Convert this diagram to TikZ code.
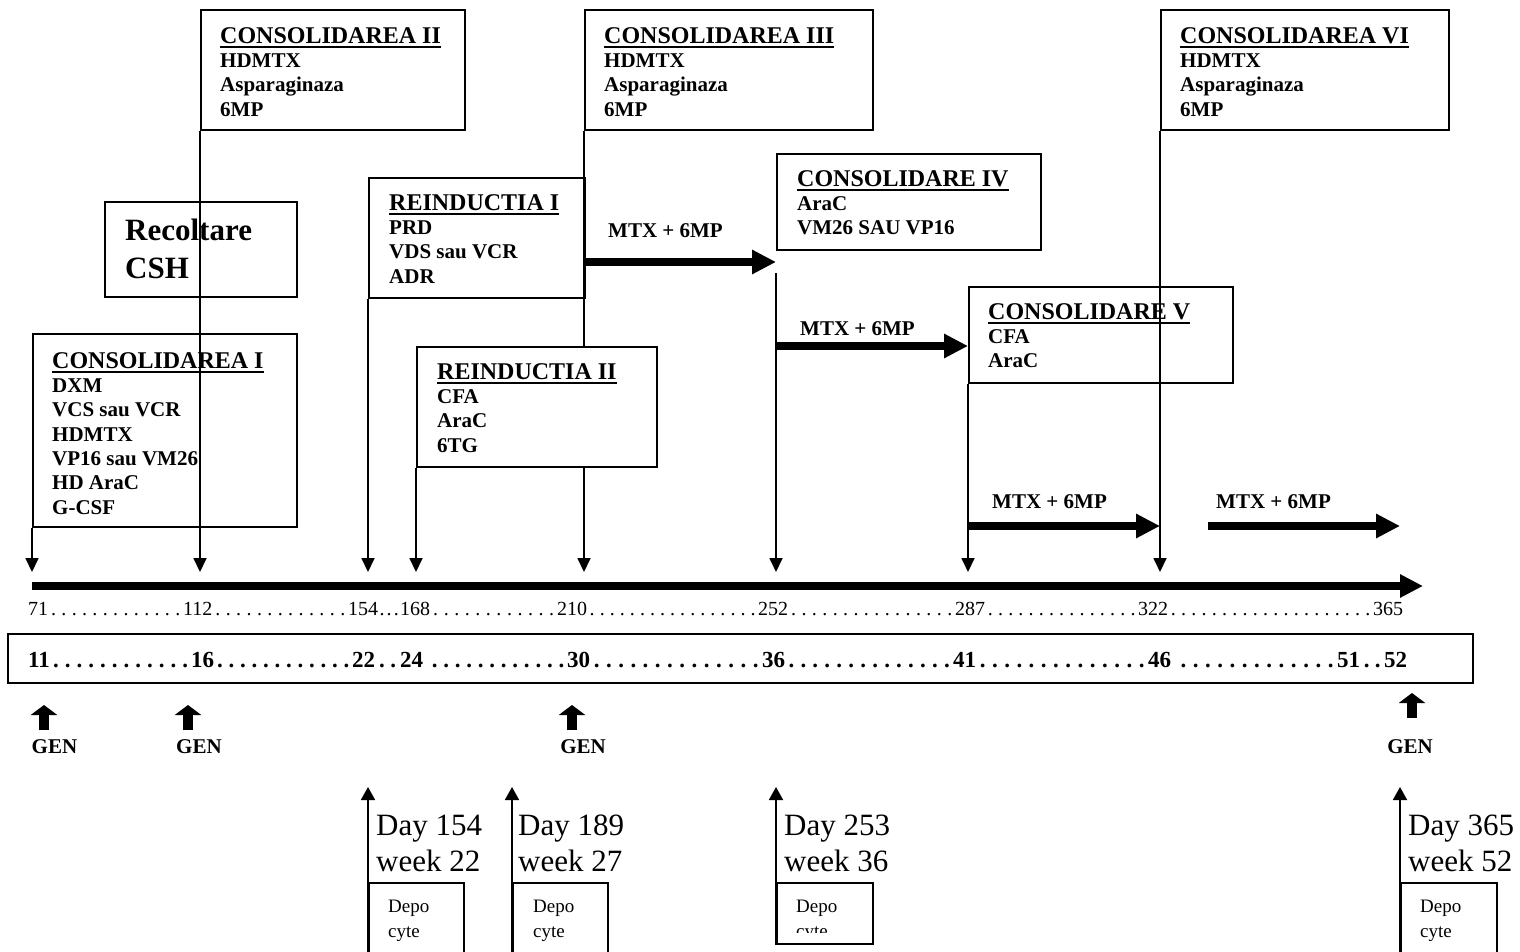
\documentclass[tikz,border=0pt]{standalone}
\usepackage{fontspec}
\setmainfont{Liberation Serif}
\usetikzlibrary{arrows.meta}
\newsavebox\hdrbox
\newcommand\hdr[1]{\sbox\hdrbox{#1}\rlap{\rule[-4.6pt]{\wd\hdrbox}{2pt}}\usebox\hdrbox}
\newcommand\topstrut{\rule{0pt}{20pt}}
\newcommand\dayseg[3][10pt]{\makebox[#2][l]{#3\xleaders\hbox to #1{\hss.\hss}\hfill}}
\newcommand\wkseg[3][11.5pt]{\makebox[#2][l]{#3\xleaders\hbox to #1{\hss.\hss}\hfill}}
\begin{document}
\begin{tikzpicture}[x=1pt,y=-1pt,
  box/.style={draw,line width=2pt,inner sep=0pt,anchor=north west},
  txt/.style={anchor=north west,inner sep=0pt,align=left,font=\fontsize{21}{24.3}\selectfont\bfseries},
  vline/.style={line width=1.8pt,-{Triangle[length=14pt,width=13pt]}},
  bigarrow/.style={line width=8.5pt,-{Triangle[length=24pt,width=23pt]}},
  genarrow/.style={line width=10pt,-{Triangle[length=10pt,width=26pt]}},
  uparrow/.style={line width=1.8pt,-{Triangle[length=13pt,width=14pt]}},
  lbl/.style={anchor=base west,inner sep=0pt,font=\fontsize{21}{24}\selectfont\bfseries},
  genlbl/.style={anchor=base,inner sep=0pt,font=\fontsize{21}{24}\selectfont\bfseries},
  dayrow/.style={anchor=base west,inner sep=0pt,font=\fontsize{20}{24}\selectfont},
  wkrow/.style={anchor=base west,inner sep=0pt,font=\fontsize{23}{26}\selectfont\bfseries},
  daytxt/.style={anchor=north west,inner sep=0pt,align=left,font=\fontsize{31}{36}\selectfont},
  depotxt/.style={anchor=north west,inner sep=0pt,align=left,font=\fontsize{19}{25}\selectfont},
]
\clip (0,0) rectangle (1520,952);
\fill[white] (0,0) rectangle (1520,952);

% ---------- top boxes ----------
\node[box,minimum width=264pt,minimum height=120pt] (c2) at (200,9) {};
\node[txt] (c2t) at (220,23) {\topstrut\hdr{\fontsize{24}{24.3}\selectfont CONSOLIDAREA II}\\HDMTX\\Asparaginaza\\6MP};

\node[box,minimum width=288pt,minimum height=120pt] (c3) at (584,9) {};
\node[txt] (c3t) at (604,23) {\topstrut\hdr{\fontsize{24}{24.3}\selectfont CONSOLIDAREA III}\\HDMTX\\Asparaginaza\\6MP};

\node[box,minimum width=288pt,minimum height=120pt] (c6) at (1160,9) {};
\node[txt] (c6t) at (1180,23) {\topstrut\hdr{\fontsize{24}{24.3}\selectfont CONSOLIDAREA VI}\\HDMTX\\Asparaginaza\\6MP};

\node[box,minimum width=192pt,minimum height=95pt] (rc) at (104,201) {};
\node[anchor=north west,inner sep=0pt,align=left,font=\fontsize{31}{37.5}\selectfont\bfseries] (rct) at (125,215.7) {\rule{0pt}{25pt}Recoltare\\CSH};

\node[box,minimum width=216pt,minimum height=120pt] (r1) at (368,177) {};
\node[txt] (r1t) at (389,190) {\topstrut\hdr{\fontsize{24}{24.3}\selectfont REINDUCTIA I}\\PRD\\VDS sau VCR\\ADR};

\node[box,minimum width=264pt,minimum height=96pt] (c4) at (776,153) {};
\node[txt] (c4t) at (797,166) {\topstrut\hdr{\fontsize{24}{24.3}\selectfont CONSOLIDARE IV}\\AraC\\VM26 SAU VP16};

\node[box,minimum width=264pt,minimum height=96pt] (c5) at (968,286) {};
\node[txt] (c5t) at (988,299) {\topstrut\hdr{\fontsize{24}{24.3}\selectfont CONSOLIDARE V}\\CFA\\AraC};

\node[box,minimum width=264pt,minimum height=193pt] (c1) at (32,333) {};
\node[txt] (c1t) at (52,348) {\topstrut\hdr{\fontsize{24}{24.3}\selectfont CONSOLIDAREA I}\\DXM\\VCS sau VCR\\HDMTX\\VP16 sau VM26\\HD AraC\\G-CSF};

% ---------- timeline ----------
\coordinate (tl0) at (32,586);
\coordinate (tl1) at (1423,586);
\draw[line width=8pt,-{Triangle[length=23pt,width=22pt]}] (tl0) -- (tl1);

\coordinate (t71) at (32,572);
\coordinate (t112) at (200,572);
\coordinate (t154) at (368,572);
\coordinate (t168) at (416,572);
\coordinate (t210) at (584,572);
\coordinate (t252) at (776,572);
\coordinate (t287) at (968,572);
\coordinate (t322) at (1160,572);
\coordinate (s252) at (776,273);

\draw[vline] (c1.south west) -- (t71);
\draw[vline] (c2.south west) -- (t112);
\draw[vline] (r1.south west) -- (t154);
\draw[vline] (c3.south west) -- (t210);
\draw[vline] (s252) -- (t252);
\draw[vline] (c5.south west) -- (t287);
\draw[vline] (c6.south west) -- (t322);

% REINDUCTIA II (opaque, covers the 210 line)
\node[box,fill=white,minimum width=240pt,minimum height=120pt] (r2) at (416,346) {};
\node[txt] (r2t) at (437,359) {\topstrut\hdr{\fontsize{24}{24.3}\selectfont REINDUCTIA II}\\CFA\\AraC\\6TG};
\draw[vline] (r2.south west) -- (t168);

% ---------- MTX + 6MP arrows ----------
\coordinate (m1a) at (584,262); \coordinate (m1b) at (776,262);
\coordinate (m2a) at (776,346); \coordinate (m2b) at (968,346);
\coordinate (m3a) at (968,526); \coordinate (m3b) at (1160,526);
\coordinate (m4a) at (1208,526); \coordinate (m4b) at (1400,526);
\draw[bigarrow] (m1a) -- (m1b);
\draw[bigarrow] (m2a) -- (m2b);
\draw[bigarrow] (m3a) -- (m3b);
\draw[bigarrow] (m4a) -- (m4b);
\node[lbl] (m1l) at (608,237) {MTX + 6MP};
\node[lbl] (m2l) at (800,335.5) {MTX + 6MP};
\node[lbl] (m3l) at (992,508) {MTX + 6MP};
\node[lbl] (m4l) at (1216,508) {MTX + 6MP};

% ---------- day row ----------
\node[dayrow] (d71) at (28,615) {\dayseg{155pt}{71}};
\node[dayrow] (d112) at (183,615) {\dayseg{165pt}{112}};
\node[dayrow] (d154) at (348,615) {\dayseg[6.5pt]{52pt}{154}};
\node[dayrow] (d168) at (400,615) {\dayseg{157pt}{168}};
\node[dayrow] (d210) at (557,615) {\dayseg{201pt}{210}};
\node[dayrow] (d252) at (758,615) {\dayseg{197pt}{252}};
\node[dayrow] (d287) at (955,615) {\dayseg{183pt}{287}};
\node[dayrow] (d322) at (1138,615) {\dayseg{235pt}{322}};
\node[dayrow] (d365) at (1373,615) {365};

% ---------- week row ----------
\node[draw,line width=2pt,inner sep=0pt,anchor=north west,minimum width=1465pt,minimum height=49pt] (wk) at (7,633) {};
\node[wkrow] (w11) at (28,667) {\wkseg{163pt}{11}};
\node[wkrow] (w16) at (191,667) {\wkseg{161pt}{16}};
\node[wkrow] (w22) at (352,667) {\wkseg[8.5pt]{48pt}{22}};
\node[wkrow] (w24) at (400,667) {\wkseg{167pt}{24\ }};
\node[wkrow] (w30) at (567,667) {\wkseg{195pt}{30}};
\node[wkrow] (w36) at (762,667) {\wkseg{191pt}{36}};
\node[wkrow] (w41) at (953,667) {\wkseg{195pt}{41}};
\node[wkrow] (w46) at (1148,667) {\wkseg{189pt}{46\ }};
\node[wkrow] (w51) at (1337,667) {\wkseg[9pt]{47pt}{51}};
\node[wkrow] (w52) at (1384,667) {52};

% ---------- GEN ----------
\coordinate (g1a) at (44,730); \coordinate (g1b) at (44,705);
\coordinate (g2a) at (188,730); \coordinate (g2b) at (188,705);
\coordinate (g3a) at (572,730); \coordinate (g3b) at (572,705);
\coordinate (g4a) at (1412,718); \coordinate (g4b) at (1412,693);
\draw[genarrow] (g1a) -- (g1b);
\draw[genarrow] (g2a) -- (g2b);
\draw[genarrow] (g3a) -- (g3b);
\draw[genarrow] (g4a) -- (g4b);
\node[genlbl] (gl1) at (54.5,753) {GEN};
\node[genlbl] (gl2) at (199,753) {GEN};
\node[genlbl] (gl3) at (583,753) {GEN};
\node[genlbl] (gl4) at (1410,753) {GEN};

% ---------- bottom Depocyte ----------
\node[box,minimum width=95pt,minimum height=80pt] (db1) at (368,882) {};
\node[box,minimum width=95pt,minimum height=80pt] (db2) at (512,882) {};
\node[box,minimum width=96pt,minimum height=61pt] (db3) at (776,882) {};
\node[box,minimum width=96pt,minimum height=80pt] (db4) at (1400,882) {};
\coordinate (u1) at (368,787);
\coordinate (u2) at (512,787);
\coordinate (u3) at (776,787);
\coordinate (u4) at (1400,787);
\draw[uparrow] (db1.south west) -- (u1);
\draw[uparrow] (db2.south west) -- (u2);
\draw[uparrow] (db3.south west) -- (u3);
\draw[uparrow] (db4.south west) -- (u4);

\node[daytxt] (dt1) at (376,811) {\rule{0pt}{24pt}Day 154\\week 22};
\node[daytxt] (dt2) at (518,811) {\rule{0pt}{24pt}Day 189\\week 27};
\node[daytxt] (dt3) at (784,811) {\rule{0pt}{24pt}Day 253\\week 36};
\node[daytxt] (dt4) at (1408,811) {\rule{0pt}{24pt}Day 365\\week 52};

\node[depotxt] (dp1) at (388,896) {\rule{0pt}{16pt}Depo\\cyte};
\node[depotxt] (dp2) at (533,896) {\rule{0pt}{16pt}Depo\\cyte};
\begin{scope}
\clip (776,882) rectangle (872,932);
\node[depotxt] (dp3) at (796,896) {\rule{0pt}{16pt}Depo\\cyte};
\end{scope}
\node[depotxt] (dp4) at (1420,896) {\rule{0pt}{16pt}Depo\\cyte};
\end{tikzpicture}
\end{document}
